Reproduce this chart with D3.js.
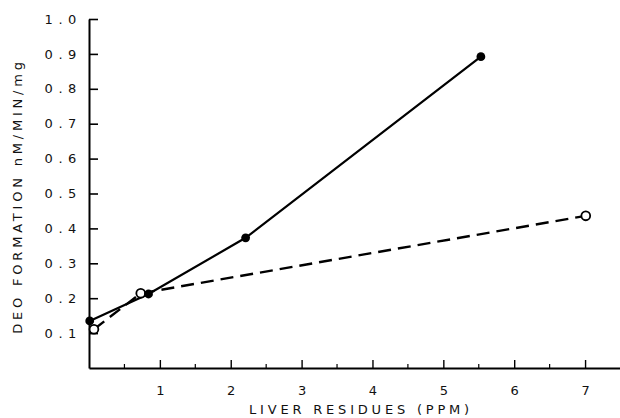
<!DOCTYPE html>
<html>
<head>
<meta charset="utf-8">
<script src="https://cdn.jsdelivr.net/npm/d3@7"></script>
<style>
  body { margin: 0; background: #fff; }
  svg { display: block; }
  .tick text, .lbl { font-family: "DejaVu Sans", sans-serif; fill: #111; }
</style>
</head>
<body>
<div id="chart"></div>
<script>
// residues (ppm) vs DEO formation (nM/min/mg)
var solidX = [0.01, 0.84, 2.21, 5.53];
var solidY = [0.135, 0.212, 0.373, 0.892];
var openX = [0.07, 0.73, 7.01];
var openY = [0.111, 0.214, 0.436];
var xTicks = [1, 2, 3, 4, 5, 6, 7];
var xMinor = [0.5, 1.5, 2.5, 3.5, 4.5, 5.5, 6.5];
var yTicks = [0.1, 0.2, 0.3, 0.4, 0.5, 0.6, 0.7, 0.8, 0.9, 1.0];

var width = 620, height = 418;
var svg = d3.select("#chart").append("svg")
  .attr("width", width)
  .attr("height", height);

var x = d3.scaleLinear().domain([0, 7.5]).range([89, 620.5]);
var y = d3.scaleLinear().domain([0, 1]).range([368, 19]);

// y axis, ticks pointing inward
var yAxis = svg.append("g")
  .attr("transform", "translate(" + x(0) + ",0)")
  .call(d3.axisLeft(y)
    .tickValues(yTicks)
    .tickSizeInner(-9)
    .tickSizeOuter(0)
    .tickPadding(7)
    .tickFormat(d3.format(".1f")));
yAxis.select(".domain").attr("stroke-width", 2);
yAxis.selectAll(".tick line").attr("stroke-width", 1.6);
yAxis.selectAll(".tick text")
  .style("font-size", "13px")
  .style("letter-spacing", "5.6px");

// x axis
var xAxis = svg.append("g")
  .attr("transform", "translate(0," + y(0) + ")")
  .call(d3.axisBottom(x)
    .tickValues(xTicks)
    .tickSizeInner(-8)
    .tickSizeOuter(0)
    .tickPadding(18)
    .tickFormat(d3.format("d")));
xAxis.select(".domain").attr("stroke-width", 2);
xAxis.selectAll(".tick line").attr("stroke-width", 1.4);
xAxis.selectAll(".tick text").style("font-size", "13px");

svg.append("g")
  .selectAll("line")
  .data(xMinor)
  .enter()
  .append("line")
  .attr("x1", function(d) { return x(d); })
  .attr("x2", function(d) { return x(d); })
  .attr("y1", y(0))
  .attr("y2", y(0) - 4)
  .attr("stroke", "#000")
  .attr("stroke-width", 1.2);

// axis titles
svg.append("text")
  .attr("class", "lbl")
  .attr("x", 361)
  .attr("y", 414)
  .attr("text-anchor", "middle")
  .style("font-size", "13px")
  .style("letter-spacing", "3.8px")
  .text("LIVER RESIDUES (PPM)");

svg.append("text")
  .attr("class", "lbl")
  .attr("transform", "translate(22,196) rotate(-90)")
  .attr("text-anchor", "middle")
  .style("font-size", "13px")
  .style("letter-spacing", "3.8px")
  .text("DEO FORMATION  nM/MIN/mg");

var line = d3.line()
  .x(function(d) { return x(d[0]); })
  .y(function(d) { return y(d[1]); });

var solid = solidX.map(function(v, i) { return [v, solidY[i]]; });
var open = openX.map(function(v, i) { return [v, openY[i]]; });

svg.append("path")
  .datum(solid)
  .attr("d", line)
  .attr("fill", "none")
  .attr("stroke", "#000")
  .attr("stroke-width", 2.2);

svg.append("path")
  .datum(open)
  .attr("d", line)
  .attr("fill", "none")
  .attr("stroke", "#000")
  .attr("stroke-width", 2.4)
  .attr("stroke-dasharray", "13,7");

svg.append("g")
  .selectAll("circle")
  .data(open)
  .enter()
  .append("circle")
  .attr("cx", function(d) { return x(d[0]); })
  .attr("cy", function(d) { return y(d[1]); })
  .attr("r", 4.4)
  .attr("fill", "#fff")
  .attr("stroke", "#000")
  .attr("stroke-width", 1.8);

svg.append("g")
  .selectAll("circle")
  .data(solid)
  .enter()
  .append("circle")
  .attr("cx", function(d) { return x(d[0]); })
  .attr("cy", function(d) { return y(d[1]); })
  .attr("r", 4.4)
  .attr("fill", "#000");
</script>
</body>
</html>
